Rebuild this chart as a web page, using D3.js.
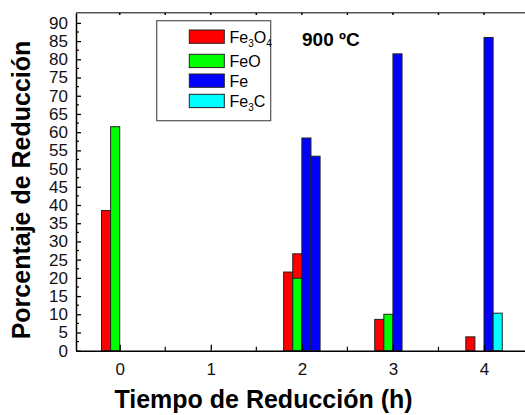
<!DOCTYPE html>
<html>
<head>
<meta charset="utf-8">
<script src="https://cdn.jsdelivr.net/npm/d3@7"></script>
<style>
  html, body { margin: 0; padding: 0; background: #fff; }
  svg { display: block; font-family: Arial, "Liberation Sans", sans-serif; }
</style>
</head>
<body>
<svg id="chart" width="525" height="415"></svg>
<script>
// x position of each measurement group (two runs were taken at 2 h)
const groupX = [0, 2, 2.1, 3, 4];
const fe3o4 = [38.5, 21.6, 26.6, 8.6, 3.8];
const feo   = [61.5, 19.9, 0, 10.0, 0];
const fe    = [0, 58.4, 53.4, 81.5, 86.0];
const fe3c  = [0, 0, 0, 0, 10.3];
const seriesNames = ["Fe3O4", "FeO", "Fe", "Fe3C"];
const seriesColors = ["#ff0000", "#00ff00", "#0000ff", "#00ffff"];
const xTicks = [0, 1, 2, 3, 4];
const yTicks = [0,5,10,15,20,25,30,35,40,45,50,55,60,65,70,75,80,85,90];
const xTitle = "Tiempo de Reducción (h)";
const yTitle = "Porcentaje de Reducción";
const tempLabel = "900 ºC";

const series = [fe3o4, feo, fe, fe3c];
const svg = d3.select("#chart");

const x = d3.scaleLinear().domain([-0.48, 4.45]).range([76, 525]);
const y = d3.scaleLinear().domain([0, 92.8]).range([350.7, 12.7]);
const barW = 0.1;

// bars
series.forEach((vals, si) => {
  svg.append("g").selectAll("rect")
    .data(vals.map((v, i) => ({ x: groupX[i], v })).filter(d => d.v > 0))
    .join("rect")
    .attr("x", d => x(d.x - 0.2 + si * barW))
    .attr("width", d => x(d.x - 0.2 + (si + 1) * barW) - x(d.x - 0.2 + si * barW))
    .attr("y", d => y(d.v))
    .attr("height", d => y(0) - y(d.v))
    .attr("fill", seriesColors[si])
    .attr("stroke", "#222")
    .attr("stroke-width", 1);
});

// left axis
const yAxis = d3.axisLeft(y).tickValues(yTicks).tickSizeInner(-5).tickSizeOuter(0).tickPadding(8);
const gy = svg.append("g").attr("transform", "translate(76,0)").call(yAxis);
gy.select(".domain").attr("stroke", "#000").attr("stroke-width", 1.5);
gy.selectAll(".tick line").attr("stroke", "#000").attr("stroke-width", 1.3);
gy.selectAll(".tick text").attr("font-size", 17).attr("fill", "#111").attr("font-family", "Arial, 'Liberation Sans', sans-serif");
const yMinor = d3.range(2.5, 92, 5);
svg.append("g").selectAll("line").data(yMinor).join("line")
  .attr("x1", 76).attr("x2", 79).attr("y1", d => y(d)).attr("y2", d => y(d))
  .attr("stroke", "#000").attr("stroke-width", 1.2);

// bottom axis
const xAxis = d3.axisBottom(x).tickValues(xTicks).tickFormat(d3.format("d")).tickSizeInner(-6).tickSizeOuter(0).tickPadding(12);
const gx = svg.append("g").attr("transform", "translate(0,350.7)").call(xAxis);
gx.select(".domain").attr("stroke", "#000").attr("stroke-width", 1.5);
gx.selectAll(".tick line").attr("stroke", "#000").attr("stroke-width", 1.3);
gx.selectAll(".tick text").attr("font-size", 17).attr("fill", "#111").attr("font-family", "Arial, 'Liberation Sans', sans-serif");
const xMinor = [-0.5, 0.5, 1.5, 2.5, 3.5].filter(d => x(d) > 77);
svg.append("g").selectAll("line").data(xMinor).join("line")
  .attr("x1", d => x(d)).attr("x2", d => x(d)).attr("y1", 350.7).attr("y2", 346.7)
  .attr("stroke", "#000").attr("stroke-width", 1.2);

// top axis
svg.append("line").attr("x1", 76).attr("x2", 525).attr("y1", 12.7).attr("y2", 12.7)
  .attr("stroke", "#555").attr("stroke-width", 1.5);
const topTicks = d3.range(0, 4.6, 0.5).filter(d => x(d) < 525);
svg.append("g").selectAll("line").data(topTicks).join("line")
  .attr("x1", d => x(d)).attr("x2", d => x(d)).attr("y1", 12.7).attr("y2", 15)
  .attr("stroke", "#000").attr("stroke-width", 1.5);

// axis titles
svg.append("text").attr("x", 263.5).attr("y", 408).attr("text-anchor", "middle")
  .attr("font-size", 25).attr("font-weight", "bold").attr("fill", "#000").text(xTitle);
svg.append("text").attr("transform", "translate(30,190) rotate(-90)").attr("text-anchor", "middle")
  .attr("font-size", 25).attr("font-weight", "bold").attr("fill", "#000").text(yTitle);

// temperature label
svg.append("text").attr("x", 302).attr("y", 46).attr("font-size", 19).attr("font-weight", "bold")
  .attr("fill", "#000").text(tempLabel);

// legend
const leg = svg.append("g");
leg.append("rect").attr("x", 156.7).attr("y", 20.7).attr("width", 114).attr("height", 100)
  .attr("fill", "#fff").attr("stroke", "#555").attr("stroke-width", 1.2);
const legY = [30, 54.3, 74, 94.3];
seriesNames.forEach((name, i) => {
  leg.append("rect").attr("x", 189.3).attr("y", legY[i]).attr("width", 35).attr("height", 13.3)
    .attr("fill", seriesColors[i]).attr("stroke", "#222").attr("stroke-width", 1);
  const t = leg.append("text").attr("x", 229.5).attr("y", legY[i] + 12.5)
    .attr("font-size", 16).attr("fill", "#000");
  // render digits as subscripts
  const parts = name.match(/[A-Za-z]+|\d+/g);
  let shift = 0;
  parts.forEach(p => {
    if (/\d/.test(p)) {
      t.append("tspan").attr("font-size", 10).attr("dy", 4 - shift).text(p);
      shift = 4;
    } else {
      t.append("tspan").attr("dy", -shift).text(p);
      shift = 0;
    }
  });
});
</script>
</body>
</html>
